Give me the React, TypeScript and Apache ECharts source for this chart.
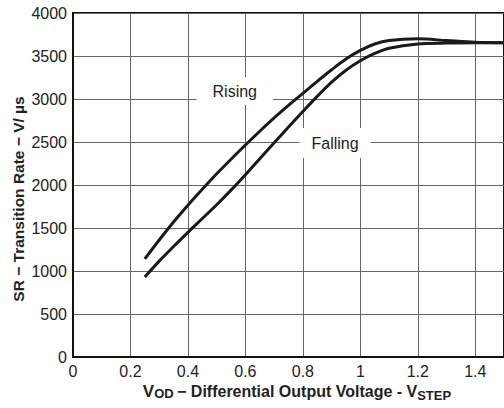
import React, { useEffect, useRef } from "react";
import * as echarts from "echarts";

const xRising = [0.25, 0.3, 0.35, 0.4, 0.45, 0.5, 0.55, 0.6, 0.65, 0.7, 0.75, 0.8, 0.85, 0.9, 0.95, 1.0, 1.05, 1.1, 1.2, 1.3, 1.4, 1.5];
const rising = [1140, 1360, 1570, 1765, 1950, 2130, 2300, 2465, 2625, 2780, 2925, 3065, 3205, 3340, 3465, 3565, 3640, 3680, 3700, 3680, 3660, 3655];
const xFalling = [0.25, 0.3, 0.35, 0.4, 0.45, 0.5, 0.55, 0.6, 0.65, 0.7, 0.75, 0.8, 0.85, 0.9, 0.95, 1.0, 1.05, 1.1, 1.2, 1.3, 1.4, 1.5];
const falling = [930, 1115, 1285, 1450, 1610, 1770, 1940, 2120, 2305, 2490, 2675, 2855, 3030, 3195, 3335, 3445, 3530, 3590, 3640, 3650, 3655, 3655];

const FONT = "'Liberation Sans', Arial, sans-serif";

export default function App() {
  const ref = useRef<HTMLDivElement>(null);
  useEffect(() => {
    if (!ref.current) return;
    const chart = echarts.init(ref.current, undefined, { renderer: "svg" });
    const lineStyle = { color: "#1a1a1a", width: 3 };
    chart.setOption({
      animation: false,
      backgroundColor: "#ffffff",
      textStyle: { fontFamily: FONT },
      grid: { left: 73, top: 13, right: -2, bottom: 51, show: true, borderColor: "#111", borderWidth: 2, backgroundColor: "transparent" },
      xAxis: {
        type: "value",
        min: 0,
        max: 1.5,
        interval: 0.2,
        axisLine: { show: true, lineStyle: { color: "#111", width: 2 } },
        axisTick: { show: false },
        splitLine: { show: true, lineStyle: { color: "#666", width: 1 } },
        axisLabel: {
          color: "#222",
          fontSize: 16,
          fontFamily: FONT,
          margin: 6,
          showMaxLabel: false,
          formatter: (v: number) => (v > 1.45 ? "" : String(Math.round(v * 10) / 10)),
        },
      },
      yAxis: {
        type: "value",
        min: 0,
        max: 4000,
        interval: 500,
        axisLine: { show: true, lineStyle: { color: "#111", width: 2 } },
        axisTick: { show: false },
        splitLine: { show: true, lineStyle: { color: "#666", width: 1 } },
        axisLabel: { color: "#222", fontSize: 16, fontFamily: FONT, margin: 6, formatter: (v: number) => String(v) },
      },
      series: [
        {
          type: "line",
          name: "Rising",
          smooth: 0.3,
          symbol: "none",
          lineStyle,
          data: xRising.map((x, i) => [x, rising[i]]),
          markPoint: {
            symbol: "rect",
            symbolSize: 0,
            silent: true,
            label: {
              show: true,
              formatter: "Rising",
              color: "#222",
              fontSize: 16,
              fontFamily: FONT,
              backgroundColor: "#fff",
              padding: [6, 16, 6, 16],
              position: "inside",
            },
            data: [{ coord: [0.563, 3093] }],
          },
        },
        {
          type: "line",
          name: "Falling",
          smooth: 0.3,
          symbol: "none",
          lineStyle,
          data: xFalling.map((x, i) => [x, falling[i]]),
          markPoint: {
            symbol: "rect",
            symbolSize: 0,
            silent: true,
            label: {
              show: true,
              formatter: "Falling",
              color: "#222",
              fontSize: 16,
              fontFamily: FONT,
              backgroundColor: "#fff",
              padding: [7, 12, 7, 12],
              position: "inside",
            },
            data: [{ coord: [0.912, 2488] }],
          },
        },
      ],
      graphic: [
        {
          type: "text",
          x: 297,
          y: 391,
          style: {
            text: "{v|V}{s|OD} {m|− Differential Output Voltage - V}{sub|STEP}",
            align: "center",
            verticalAlign: "middle",
            rich: {
              v: { fontSize: 17, fontWeight: "bold", fill: "#222", fontFamily: FONT },
              s: { fontSize: 13, fontWeight: "bold", fill: "#222", fontFamily: FONT, padding: [4, 0, 0, 0] },
              m: { fontSize: 16, fontWeight: "bold", fill: "#222", fontFamily: FONT },
              sub: { fontSize: 13, fontWeight: "bold", fill: "#222", fontFamily: FONT, padding: [9, 0, 0, 0] },
            },
          },
        },
        {
          type: "text",
          x: 18,
          y: 199,
          rotation: Math.PI / 2,
          style: {
            text: "SR − Transition Rate − V/ µs",
            align: "center",
            verticalAlign: "middle",
            fontSize: 15.5,
            fontWeight: "bold",
            fill: "#222",
            fontFamily: FONT,
          },
        },
      ],
    });
    return () => chart.dispose();
  }, []);
  return <div ref={ref} style={{ width: 504, height: 408, position: "absolute", left: 0, top: 0 }} />;
}
